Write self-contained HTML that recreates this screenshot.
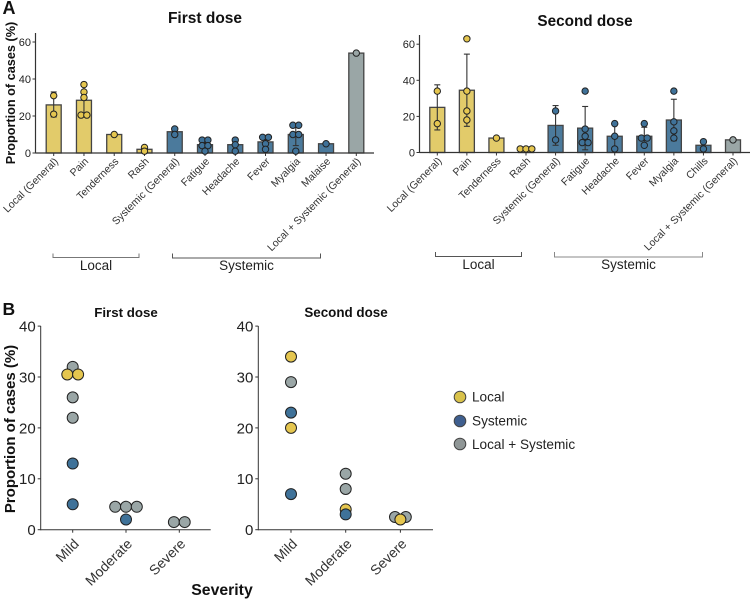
<!DOCTYPE html>
<html lang="en">
<head>
<meta charset="utf-8">
<title>Proportion of cases by symptom and severity</title>
<style>
html,body{margin:0;padding:0;background:#fff;}
svg{display:block;font-family:"Liberation Sans",Arial,sans-serif;}
</style>
</head>
<body>
<svg id="chart" width="752" height="601" viewBox="0 0 752 601" xmlns="http://www.w3.org/2000/svg">
  <text x="2.500" y="14" font-size="18" font-weight="bold" fill="#111">A</text>
  <text x="2.500" y="315" font-size="17.500" font-weight="bold" fill="#111">B</text>
  <text x="205" y="23" font-size="15.500" font-weight="bold" text-anchor="middle" fill="#111">First dose</text>
  <text x="585" y="26" font-size="15.300" font-weight="bold" text-anchor="middle" fill="#111">Second dose</text>
  <text transform="translate(15,93) rotate(-90)" font-size="12.700" font-weight="bold" text-anchor="middle" fill="#111">Proportion of cases (%)</text>
  <text x="126" y="317" font-size="13.300" font-weight="bold" text-anchor="middle" fill="#111">First dose</text>
  <text x="346" y="317" font-size="13.400" font-weight="bold" text-anchor="middle" fill="#111">Second dose</text>
  <text transform="translate(15,429) rotate(-90)" font-size="15" font-weight="bold" text-anchor="middle" fill="#111">Proportion of cases (%)</text>
  <text x="222" y="595" font-size="15.800" font-weight="bold" text-anchor="middle" fill="#111">Severity</text>

  <path d="M53 253.5V257.5H139V253.5" fill="none" stroke="#777" stroke-width="1"/>
  <text x="96" y="270" font-size="13.500" text-anchor="middle" fill="#222">Local</text>
  <path d="M172.5 253.5V258H320.5V253.5" fill="none" stroke="#555" stroke-width="1"/>
  <text x="246.500" y="270" font-size="13.500" text-anchor="middle" fill="#222">Systemic</text>
  <path d="M435.500 252V256.500H521.500V252" fill="none" stroke="#555" stroke-width="1"/>
  <text x="478.500" y="269" font-size="13.500" text-anchor="middle" fill="#222">Local</text>
  <path d="M554.500 252V257H702.500V252" fill="none" stroke="#888" stroke-width="1"/>
  <text x="628.500" y="269" font-size="13.500" text-anchor="middle" fill="#222">Systemic</text>

  <g>
    <circle cx="460" cy="397" r="5.800" fill="#D9C24A" stroke="#444" stroke-width="1"/>
    <text x="472" y="401.500" font-size="13.600" fill="#222">Local</text>
    <circle cx="460" cy="421" r="5.800" fill="#3F5F8F" stroke="#444" stroke-width="1"/>
    <text x="472" y="425.500" font-size="13.600" fill="#222">Systemic</text>
    <circle cx="460" cy="444" r="5.800" fill="#8F9696" stroke="#444" stroke-width="1"/>
    <text x="472" y="449" font-size="13.600" fill="#222">Local + Systemic</text>
  </g>
</svg>
<script>
const firstCategories = ["Local (General)","Pain","Tenderness","Rash","Systemic (General)","Fatigue","Headache","Fever","Myalgia","Malaise","Local + Systemic (General)"];
const firstGroups = ["L","L","L","L","S","S","S","S","S","S","B"];
const firstMeans = [26,28.5,10,2,11.5,4.5,4.5,6,10,5,54];
const firstErrLow = [19.5,20,null,null,10,2,1.5,2,4,null,null];
const firstErrHigh = [33,36,null,null,13,7,7,8.5,15,null,null];
const firstPoints = [[31,21],[37,33,30,20.5,20.5],[10],[3,1],[13,10],[7,7,4,4,1],[7,4.5,1],[8.5,8.5,5,2],[15,15,10,10,1],[5],[54]];
const firstTicks = [0,20,40,60];

const secondCategories = ["Local (General)","Pain","Tenderness","Rash","Systemic (General)","Fatigue","Headache","Fever","Myalgia","Chills","Local + Systemic (General)"];
const secondGroups = ["L","L","L","L","S","S","S","S","S","S","B"];
const secondMeans = [25,34.500,8,2,15,13.500,9,9,18,4,7];
const secondErrLow = [12.500,14.500,null,null,4,1.500,2,4,6.500,2,null];
const secondErrHigh = [37.500,54.500,null,null,26,25.500,16,14,29.500,6,null];
const secondPoints = [[34,16],[63,34,23,18],[8],[2,2,2],[23,7],[34,13,9,5.5,5.5],[16,9,2],[16,8,8,4],[34,17,12,8],[6,2],[7]];
const secondTicks = [0,20,40,60];

const severityCategories = ["Mild","Moderate","Severe"];
const severityTicks = [0,10,20,30,40];
const firstSeverityGray = [[32,26,22],[4.5,4.5,4.5],[1.5,1.5]];
const firstSeverityBlue = [[13,5],[2],[]];
const firstSeverityYellow = [[30.5,30.5],[],[]];
const secondSeverityGray = [[29],[11,8],[2.5,2.5]];
const secondSeverityYellow = [[34,20],[4],[2]];
const secondSeverityBlue = [[23,7],[3],[]];

const NS = "http://www.w3.org/2000/svg";
const root = document.getElementById("chart");
const barFill = {L:"#E2CB6A",S:"#4B7A9C",B:"#9AA6A6"};
const dotFill = {L:"#E5C64F",S:"#3F7299",B:"#9AA6A6"};

function make(tag, parent, attrs){
  const el = document.createElementNS(NS, tag);
  for(const k in attrs){ el.setAttribute(k, attrs[k]); }
  parent.appendChild(el);
  return el;
}
function swarmOffsets(values, gap){
  return values.map(function(v, i){
    const same = [];
    values.forEach(function(w, j){ if(w === v){ same.push(j); } });
    return (same.indexOf(i) - (same.length - 1) / 2) * gap;
  });
}
function drawAxes(parent, o){
  const yScale = o.yScale;
  const yAxis = make("line", parent, {x1:o.x0,x2:o.x0,y1:o.top,y2:o.y0+0.5,stroke:"#333","stroke-width":o.axisW});
  
  
  const xAxis = make("line", parent, {x1:o.x0,x2:o.right,y1:o.y0,y2:o.y0,stroke:"#333","stroke-width":o.axisW});
  
  
  o.ticks.forEach(function(t){
    const tick = make("line", parent, {x1:o.x0-3,x2:o.x0,y1:yScale(t),y2:yScale(t),stroke:"#333","stroke-width":1});
    
    
    const label = make("text", parent, {x:o.x0-o.tickGap,y:yScale(t)+o.tickFont*0.36,"font-size":o.tickFont,"text-anchor":"end",fill:"#222"});
    label.textContent = String(t);
    
    
  });
  o.categories.forEach(function(c, i){
    const x = o.xScale(i);
    const tick = make("line", parent, {x1:x,x2:x,y1:o.y0,y2:o.y0+3,stroke:"#333","stroke-width":1});
    
    
    const label = make("text", parent, {transform:"translate("+(x+o.labelDx)+","+(o.y0+o.labelDy)+") rotate(-45)","font-size":o.labelFont,"text-anchor":"end",fill:"#333"});
    label.textContent = c;
    
    
  });
}
function drawBarPanel(name, o, means, lows, highs, points, groups){
  const g = make("g", root, {});
  
  
  const yScale = function(v){ return o.y0 - v * o.unit; };
  const xScale = function(i){ return o.xStart + i * o.step; };
  means.forEach(function(m, i){
    const bar = make("rect", g, {x:xScale(i)-o.barW/2,y:yScale(m),width:o.barW,height:o.y0-yScale(m),fill:barFill[groups[i]],stroke:"#444","stroke-width":1.3});
    
    
  });
  drawAxes(g, {x0:o.x0,y0:o.y0,top:o.top,right:o.right,axisW:1.2,ticks:o.ticks,yScale:yScale,xScale:xScale,tickGap:4.5,tickFont:11,categories:o.categories,labelDx:5,labelDy:9,labelFont:10.5});
  means.forEach(function(m, i){
    if(lows[i] !== null){
      const x = xScale(i);
      const stem = make("line", g, {x1:x,x2:x,y1:yScale(lows[i]),y2:yScale(highs[i]),stroke:"#333","stroke-width":1.1});
      
      
      const capLow = make("line", g, {x1:x-3,x2:x+3,y1:yScale(lows[i]),y2:yScale(lows[i]),stroke:"#333","stroke-width":1.1});
      
      
      const capHigh = make("line", g, {x1:x-3,x2:x+3,y1:yScale(highs[i]),y2:yScale(highs[i]),stroke:"#333","stroke-width":1.1});
      
      
    }
    const offsets = swarmOffsets(points[i], 5.8);
    points[i].forEach(function(v, j){
      const dot = make("circle", g, {cx:xScale(i)+offsets[j],cy:yScale(v),r:3.2,fill:dotFill[groups[i]],stroke:"#222","stroke-width":1});
      
      
    });
  });
}
function drawSeverityPanel(name, o, layers){
  const g = make("g", root, {});
  
  
  const yScale = function(v){ return o.y0 - v * o.unit; };
  const xScale = function(i){ return o.xStart + i * o.step; };
  drawAxes(g, {x0:o.x0,y0:o.y0,top:o.top,right:o.right,axisW:1,ticks:severityTicks,yScale:yScale,xScale:xScale,tickGap:5,tickFont:15,categories:severityCategories,labelDx:7,labelDy:15,labelFont:14});
  layers.forEach(function(layer){
    layer.values.forEach(function(vals, i){
      const offsets = swarmOffsets(vals, 10.8);
      vals.forEach(function(v, j){
        const dot = make("circle", g, {cx:xScale(i)+offsets[j],cy:yScale(v),r:5.5,fill:layer.color,stroke:"#222","stroke-width":1});
        
        
      });
    });
  });
}

drawBarPanel("first-dose-bar-chart",{x0:35.5,y0:153,unit:1.85,top:33,right:374,xStart:53.7,step:30.26,barW:15,ticks:firstTicks,categories:firstCategories},firstMeans,firstErrLow,firstErrHigh,firstPoints,firstGroups);
drawBarPanel("second-dose-bar-chart",{x0:419.5,y0:152.5,unit:1.805,top:35,right:750,xStart:437.3,step:29.57,barW:15,ticks:secondTicks,categories:secondCategories},secondMeans,secondErrLow,secondErrHigh,secondPoints,secondGroups);
drawSeverityPanel("first-dose-severity-chart",{x0:40.7,y0:529.7,unit:5.09,top:326,right:210.7,xStart:72.7,step:53.3},[
  {color:dotFill.B,values:firstSeverityGray},
  {color:dotFill.S,values:firstSeverityBlue},
  {color:dotFill.L,values:firstSeverityYellow}
]);
drawSeverityPanel("second-dose-severity-chart",{x0:258.3,y0:529.7,unit:5.09,top:326,right:433,xStart:291,step:54.7},[
  {color:dotFill.B,values:secondSeverityGray},
  {color:dotFill.L,values:secondSeverityYellow},
  {color:dotFill.S,values:secondSeverityBlue}
]);
</script>
</body>
</html>
